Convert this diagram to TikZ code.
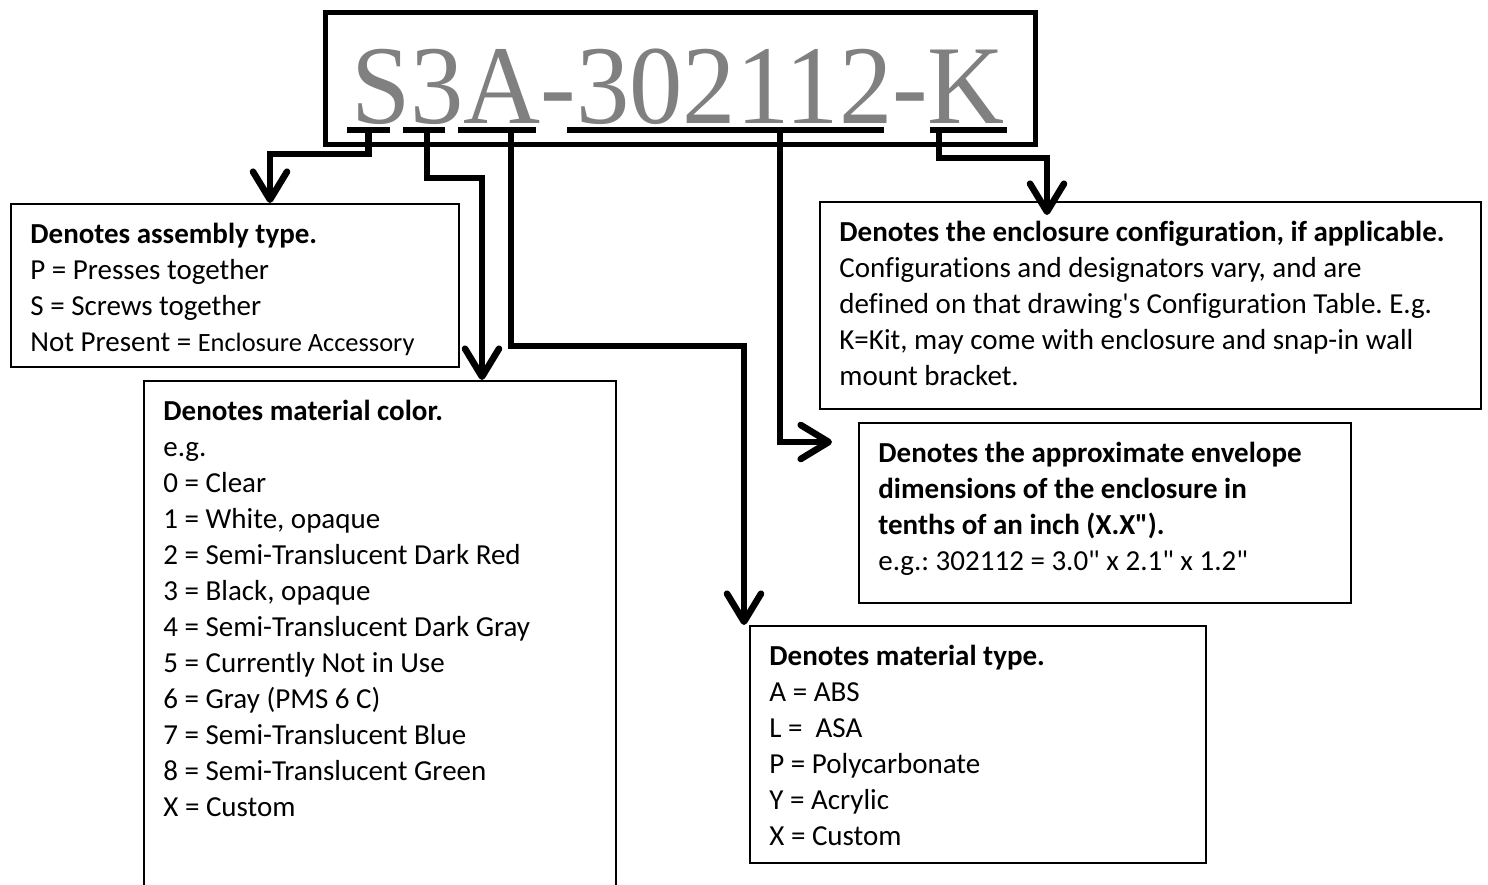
\documentclass[tikz,border=0pt]{standalone}
\usepackage{fontspec}
\setmainfont{Carlito}[Ligatures={TeXOff,CommonOff}]
\newfontfamily\codefont{Liberation Serif}
\usetikzlibrary{arrows.meta,positioning}
\frenchspacing

\tikzset{
  infobox/.style={draw, line width=1.2pt, anchor=north west, inner sep=0pt},
  infotext/.style={align=left, inner sep=0pt, font=\fontsize{14.5}{18}\selectfont},
  ubar/.style={fill=black, inner sep=0pt, minimum height=3pt},
  conn/.style={line width=3.3pt, -{Straight Barb[length=14pt,width=17pt,round]}},
}

\begin{document}
\begin{tikzpicture}[x=0.5pt, y=-0.5pt, node distance=10pt and 10pt]
\useasboundingbox (0,0) rectangle (1488,884);
\clip (0,0) rectangle (1488,884);

%part number
\node [draw, line width=2.5pt, anchor=north west, minimum width=355pt, minimum height=66pt, inner sep=0pt] (title) at (323,10) {};
\node [anchor=base, inner sep=0pt, text=gray, font=\codefont\fontsize{55}{55}\selectfont] (code) at (678,123) {\scalebox{0.97}[1.02]{S3A-302112-K}};

%underlines
\node [ubar, minimum width=21.5pt] (ulS) at (368.5,130) {};
\node [ubar, minimum width=21pt] (ul3) at (424,130) {};
\node [ubar, minimum width=39pt] (ulA) at (497,130) {};
\node [ubar, minimum width=158.5pt] (ulN) at (725.5,130) {};
\node [ubar, minimum width=38.5pt] (ulK) at (968.5,130) {};

%boxes
\node [infobox, minimum width=224pt, minimum height=81.5pt] (asm) at (10,203) {};
\node [infotext, below right=of asm.north west] (asmtext) {\textbf{Denotes assembly type.}\\
P = Presses together\\
S = Screws together\\
Not Present = {\fontsize{13.2}{18}\selectfont Enclosure Accessory}};

\node [infobox, minimum width=236pt, minimum height=260pt] (col) at (143,380) {};
\node [infotext, below right=of col.north west] (coltext) {\textbf{Denotes material color.}\\
e.g.\\
0 = Clear\\
1 = White, opaque\\
2 = Semi-Translucent Dark Red\\
3 = Black, opaque\\
4 = Semi-Translucent Dark Gray\\
5 = Currently Not in Use\\
6 = Gray (PMS 6 C)\\
7 = Semi-Translucent Blue\\
8 = Semi-Translucent Green\\
X = Custom};

\node [infobox, minimum width=228pt, minimum height=118.5pt] (typ) at (749,625) {};
\node [infotext, below right=of typ.north west] (typtext) {\textbf{Denotes material type.}\\
A = ABS\\
L = \ ASA\\
P = Polycarbonate\\
Y = Acrylic\\
X = Custom};

\node [infobox, minimum width=246pt, minimum height=90pt] (env) at (858,422) {};
\node [infotext, below right=of env.north west] (envtext) {\textbf{Denotes the approximate envelope}\\
\textbf{dimensions of the enclosure in}\\
\textbf{tenths of an inch (X.X").}\\
e.g.: 302112 = 3.0" x 2.1" x 1.2"};

\node [infobox, minimum width=330.5pt, minimum height=103.5pt] (conf) at (819,201) {};
\node [infotext, below right=of conf.north west] (conftext) {\textbf{Denotes the enclosure configuration, if applicable.}\\
Configurations and designators vary, and are\\
defined on that drawing's Configuration Table. E.g.\\
K=Kit, may come with enclosure and snap-in wall\\
mount bracket.};

%connectors
\coordinate (bendS) at (270,154);
\draw [conn] (ulS.center) |- (bendS) -- (bendS |- asm.north);

\coordinate (bend3) at (482,178);
\draw [conn] ([xshift=1.5pt]ul3.center) |- (bend3) -- (bend3 |- col.north);

\coordinate (bendA) at (744,346);
\draw [conn] ([xshift=7pt]ulA.center) |- (bendA) -- (bendA |- typ.north);

\coordinate (tipN) at (832,442);
\draw [conn] ([xshift=27.25pt]ulN.center) |- (tipN);

\coordinate (bendK) at (1047,158);
\draw [conn] ([xshift=-14.75pt]ulK.center) |- (bendK) -- ([yshift=-7pt]bendK |- conf.north);

\end{tikzpicture}
\end{document}
